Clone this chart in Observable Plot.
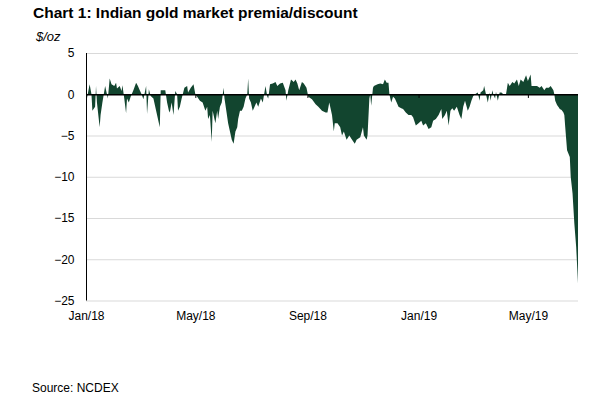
<!DOCTYPE html>
<html>
<head>
<meta charset="utf-8">
<script src="https://cdn.jsdelivr.net/npm/d3@7"></script>
<script src="https://cdn.jsdelivr.net/npm/@observablehq/plot@0.6"></script>
<style>
  body { margin: 0; background: #fff; font-family: "Liberation Sans", Arial, sans-serif; color: #000; }
  #wrap { position: relative; width: 611px; height: 405px; overflow: hidden; background: #fff; }
  #title { position: absolute; left: 33px; top: 5px; font-size: 15.5px; line-height: 1; font-weight: bold; white-space: nowrap; z-index: 2; }
  #unit { position: absolute; left: 36px; top: 30px; font-size: 13px; line-height: 1; font-style: italic; z-index: 2; }
  #chart { position: absolute; left: 0; top: 28px; z-index: 1; }
  #source { position: absolute; left: 32px; top: 382px; font-size: 12px; line-height: 1; z-index: 2; }
</style>
</head>
<body>
<div id="wrap">
  <div id="title">Chart 1: Indian gold market premia/discount</div>
  <div id="chart"></div>
  <div id="unit">$/oz</div>
  <div id="source">Source: NCDEX</div>
</div>
<script>
// Days counted from 1 Jan 2018
const startDate = new Date(2018, 0, 1);
const endDate = new Date(2019, 5, 25);
const dayOffsets = [
  1,4,6,7,10,11,12,15,16,18,21,23,24,26,28,31,33,34,37,39,40,42,44,45,47,49,52,55,57,59,
  61,63,66,67,69,71,74,78,81,82,85,87,89,91,92,94,96,98,100,101,103,105,108,111,112,115,118,120,122,125,
  128,131,133,134,136,138,139,142,144,145,147,149,151,152,154,156,158,160,162,164,166,167,169,171,173,175,177,178,179,181,
  183,185,187,189,192,194,197,199,200,202,205,208,210,213,216,219,220,222,225,228,230,232,234,237,239,242,244,248,252,255,
  259,263,265,267,270,272,273,276,279,281,283,286,289,292,295,297,301,304,305,308,309,311,312,313,315,316,320,323,326,328,
  330,332,333,335,337,339,341,343,346,348,351,354,357,359,362,365,368,370,373,376,379,381,384,387,390,391,394,396,398,400,
  402,404,407,410,412,414,416,419,421,423,425,427,430,432,433,436,437,439,441,443,444,446,447,449,450,452,454,456,458,461,
  463,465,468,470,473,475,477,480,483,485,488,489,491,495,498,500,503,505,508,510,513,514,515,517,519,520,522,524,525,526,
  528,531,532,534,536,538,540
];
const premia = [
  -0.5,1.2,0,-2.0,-1.5,1.0,-1.0,-4.0,-2.5,-1.0,1.0,0,-0.5,1.9,1.2,1.0,1.4,0.7,1.0,0.4,1.1,-0.5,-2.3,-0.5,-1.0,-0.3,0.5,1.4,1.0,0.5,
  0,-0.6,1.0,-2.4,0.6,-0.2,-0.5,-2.5,-4.0,0.5,0.5,0.5,-1.0,-2.0,-2.2,-1.0,-2.5,0.4,0,-2.0,-1.5,-0.5,0.8,1.0,0.2,0.8,1.2,0,-0.3,-0.8,
  -1.0,-2.0,-1.5,-3.0,-2.5,-5.8,-2.0,-3.5,-2.0,-3.0,-1.5,-1.0,0.8,-0.5,-2.0,-3.5,-4.5,-5.5,-6.0,-4.5,-4.0,-3.0,-2.0,-2.0,-1.5,-0.5,0,1.9,-0.5,-1.0,
  -2.0,-1.5,-1.0,-1.5,-0.5,-1.0,1.0,-0.3,-0.5,1.2,1.3,1.5,1.0,1.3,1.4,0.5,-0.8,0.5,1.8,1.5,1.8,1.3,0.5,1.5,1.3,0.8,-0.3,-0.6,-1.2,-1.5,
  -2.0,-2.2,-2.2,-1.0,-2.5,-4.5,-3.5,-3.5,-4.0,-5.0,-4.5,-5.5,-5.0,-5.5,-6.0,-5.5,-5.2,-4.0,-5.0,-5.5,-5.0,-0.5,0,-1.4,0.8,1.0,1.2,1.3,1.2,1.8,
  1.4,1.4,0,-1.0,-0.3,-0.5,-1.0,-1.5,-1.7,-1.8,-2.2,-2.5,-2.5,-2.8,-3.8,-3.5,-3.2,-3.8,-3.5,-4.2,-4.0,-3.2,-3.0,-2.5,-1.8,-3.0,-2.5,-2.0,-3.8,-2.0,
  -1.7,-2.0,-1.5,-2.5,-3.0,-1.5,-0.8,-2.0,-1.5,-0.8,-0.2,0,0.2,-0.8,0.2,0.5,1.0,0,-1.0,0.2,-0.8,0.5,0,-0.5,0.3,-0.8,0.2,0.2,0,0,
  1.4,1.0,1.5,1.3,1.8,1.0,1.8,1.5,2.3,1.6,2.4,1.0,1.0,1.0,0.8,1.0,0.5,0.8,0.8,1.0,0.5,0,-0.8,-1.3,-1.6,-1.8,-1.9,-2.2,-2.5,-4.0,
  -6.8,-7.6,-10.0,-12.0,-15.7,-18.5,-22.9
];
const yTicks = [5, 0, -5, -10, -15, -20, -25];
const xTickLabels = ["2018-01-01", "2018-05-01", "2018-09-01", "2019-01-01", "2019-05-01"];

const data = dayOffsets.map((d, i) => ({ date: d3.timeDay.offset(startDate, d), value: premia[i] }));
const xTicks = xTickLabels.map(s => d3.timeParse("%Y-%m-%d")(s));
const green = "#12452f";

const chart = Plot.plot({
  width: 611,
  height: 300,
  marginLeft: 86,
  marginRight: 33,
  marginTop: 25,
  marginBottom: 27.5,
  style: { fontFamily: "'Liberation Sans', Arial, sans-serif", fontSize: "12px", color: "#000", background: "transparent", overflow: "visible" },
  x: { type: "utc", domain: [startDate, endDate], axis: null, label: null },
  y: { domain: [-25, 5], axis: null, label: null },
  marks: [
    Plot.gridY(yTicks.filter(t => t !== 0), { stroke: "#d9d9d9", strokeOpacity: 1, strokeWidth: 1 }),
    Plot.areaY(data, { x: "date", y: "value", fill: green, curve: "linear" }),
    Plot.ruleY([0], { stroke: "#000", strokeWidth: 1.5 }),
    Plot.ruleX(xTicks, { x: d => d, y1: 0, y2: -0.45, stroke: "#000", strokeWidth: 1 }),
    Plot.ruleX([startDate], { y1: -25, y2: 5, stroke: "#000", strokeWidth: 1 }),
    Plot.axisY(yTicks, { tickSize: 0, tickPadding: 12, fontSize: 12, fill: "#000", label: null }),
    Plot.axisX(xTicks, { tickSize: 0, tickPadding: 10, tickFormat: d3.timeFormat("%b/%y"), fontSize: 12, fill: "#000", label: null })
  ]
});
document.getElementById("chart").appendChild(chart);
</script>
</body>
</html>
